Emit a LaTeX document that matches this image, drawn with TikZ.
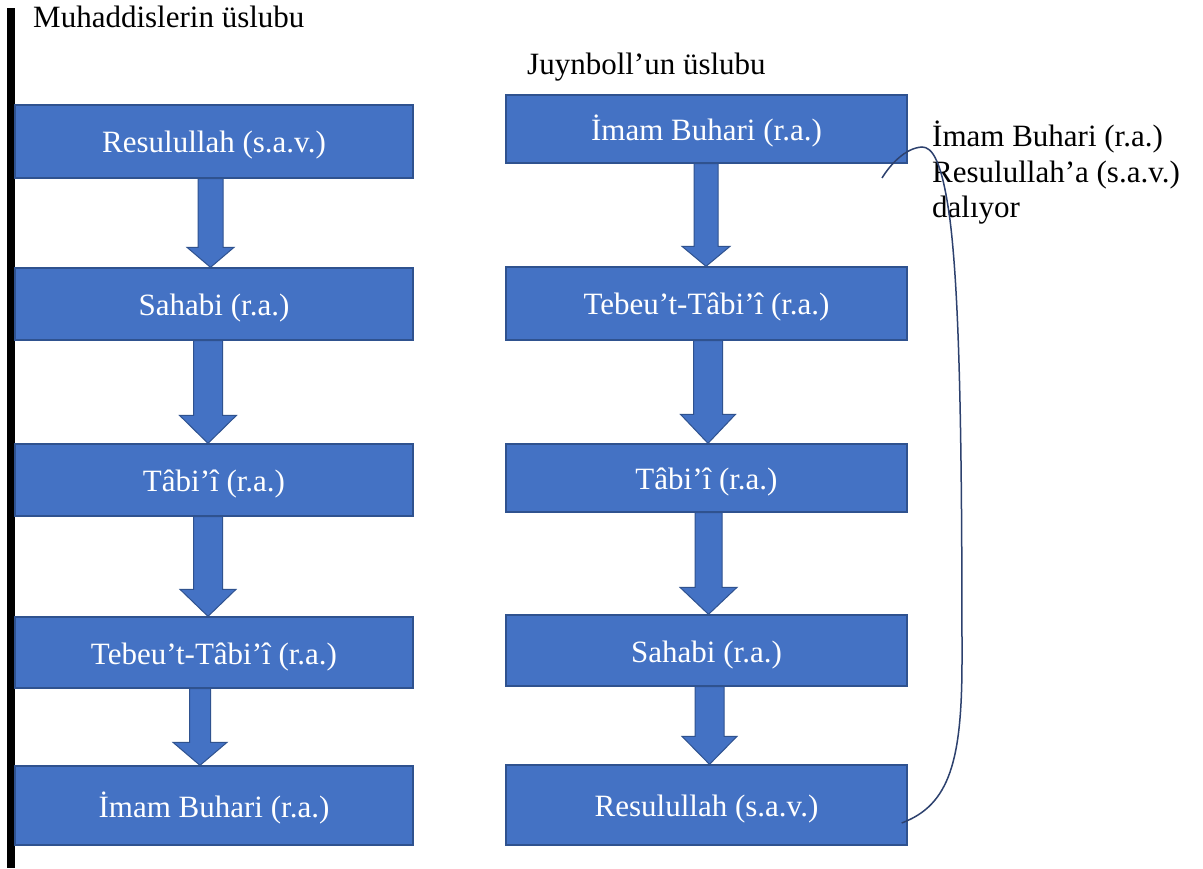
\documentclass[tikz,border=0pt]{standalone}
\usepackage{fontspec}
\setmainfont{Liberation Serif}
\usetikzlibrary{calc}
\definecolor{boxfill}{RGB}{68,114,196}
\definecolor{boxline}{RGB}{47,82,143}
\definecolor{curveline}{RGB}{45,65,110}

% downward block arrow between two boxes:
% #1 upper box, #2 lower box, #3 centre x, #4 half shaft width,
% #5 half head width, #6 head length
\newcommand\chaindown[6]{%
  \draw[blockarrow] let \p1=(#1.south), \p2=(#2.north) in
    (#3pt-#4pt,\y1) -- (#3pt+#4pt,\y1) -- (#3pt+#4pt,\y2+#6pt) -- (#3pt+#5pt,\y2+#6pt)
    -- (#3pt,\y2) -- (#3pt-#5pt,\y2+#6pt) -- (#3pt-#4pt,\y2+#6pt) -- cycle;}

\begin{document}
\begin{tikzpicture}[x=1pt,y=-1pt,
  chainbox/.style={draw=boxline, line width=1.3pt, fill=boxfill, text=white,
    inner sep=0pt, text height=30pt, text depth=7pt,
    font=\fontsize{31}{36}\selectfont},
  leftbox/.style={chainbox, minimum width=398pt},
  rightbox/.style={chainbox, minimum width=401pt},
  blockarrow/.style={draw=boxline, line width=1pt, fill=boxfill, line join=miter},
  caption/.style={anchor=base west, inner sep=0pt, font=\fontsize{31}{36}\selectfont}]
\useasboundingbox[fill=white] (0,0) rectangle (1203,869);

% vertical rule on the left margin
\fill[black] (7,8) rectangle (15,868);

% headings
\node[caption] (lefttitle) at (33,28) {Muhaddislerin üslubu};
\node[caption] (righttitle) at (527,75) {Juynboll’un üslubu};

% left chain
\node[leftbox, minimum height=73pt] (L1) at (214,141.5) {Resulullah (s.a.v.)};
\node[leftbox, minimum height=72pt] (L2) at (214,304) {Sahabi (r.a.)};
\node[leftbox, minimum height=72pt] (L3) at (214,480) {Tâbi’î (r.a.)};
\node[leftbox, minimum height=71pt] (L4) at (214,652.5) {Tebeu’t-Tâbi’î (r.a.)};
\node[leftbox, minimum height=79pt] (L5) at (214,805.5) {İmam Buhari (r.a.)};

% right chain
\node[rightbox, minimum height=68pt] (R1) at (706.5,129) {İmam Buhari (r.a.)};
\node[rightbox, minimum height=73pt] (R2) at (706.5,303.5) {Tebeu’t-Tâbi’î (r.a.)};
\node[rightbox, minimum height=68pt] (R3) at (706.5,478) {Tâbi’î (r.a.)};
\node[rightbox, minimum height=71pt] (R4) at (706.5,650.5) {Sahabi (r.a.)};
\node[rightbox, minimum height=80pt] (R5) at (706.5,805) {Resulullah (s.a.v.)};

% block arrows
\chaindown{L1}{L2}{210.5}{12.5}{23.5}{20}
\chaindown{L2}{L3}{208}{14.5}{28.5}{28}
\chaindown{L3}{L4}{208}{14.5}{28}{27}
\chaindown{L4}{L5}{200}{10.5}{27}{23}
\chaindown{R1}{R2}{706}{12}{24}{20}
\chaindown{R2}{R3}{708}{14.5}{27.5}{29}
\chaindown{R3}{R4}{708.5}{13.5}{28.5}{27}
\chaindown{R4}{R5}{709.5}{14.5}{27.5}{28}

% note (anchored on its last line) and the curve tying the two ends of the right chain
\node[caption, align=left, font=\fontsize{31}{35.5}\selectfont] (note) at (932,218)
  {İmam Buhari (r.a.)\\Resulullah’a (s.a.v.)\\dalıyor};
\coordinate (hookend) at (882,178);
\draw[curveline, line width=1.5pt]
  ($(R5.east)+(-6,18)$) .. controls (950,805) and (962,760) .. (962,660)
  .. controls (962,450) and (960,300) .. (950,220)
  .. controls (942,160) and (932,147) .. (922,147)
  .. controls (905,148) and (890,165) .. (hookend);
\end{tikzpicture}
\end{document}
